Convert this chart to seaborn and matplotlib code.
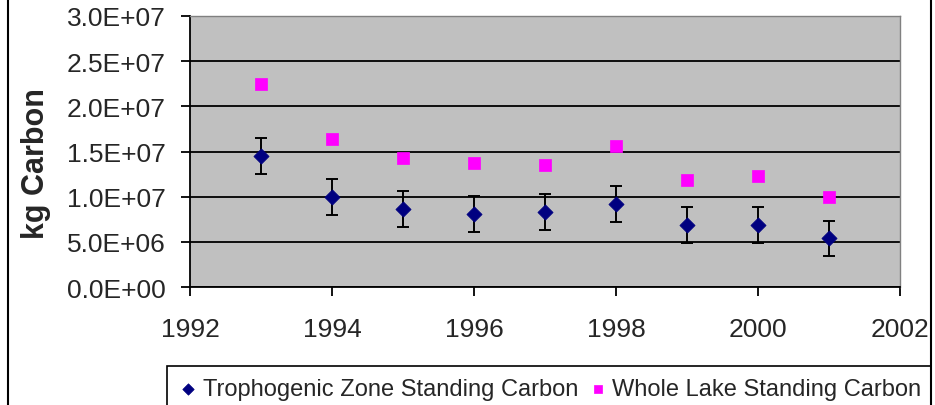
import pandas as pd
import seaborn as sns
import matplotlib.pyplot as plt
from matplotlib.patches import Rectangle
from matplotlib.ticker import FuncFormatter, MultipleLocator

# Data
years = [1993, 1994, 1995, 1996, 1997, 1998, 1999, 2000, 2001]
trophogenic = [1.45e7, 1.00e7, 0.86e7, 0.81e7, 0.83e7, 0.92e7, 0.69e7, 0.69e7, 0.54e7]
trophogenic_err = [2.0e6, 2.0e6, 2.0e6, 2.0e6, 2.0e6, 2.0e6, 2.0e6, 2.0e6, 1.95e6]
whole_lake = [2.25e7, 1.64e7, 1.43e7, 1.37e7, 1.35e7, 1.56e7, 1.185e7, 1.225e7, 1.0e7]
series_names = ["Trophogenic Zone Standing Carbon", "Whole Lake Standing Carbon"]

df = pd.DataFrame({"Year": years, "Tropho": trophogenic, "Err": trophogenic_err,
                   "Whole": whole_lake})

sns.set_style("white")
plt.rcParams['font.family'] = ['Liberation Sans', 'DejaVu Sans']

W, H = 935, 406
fig = plt.figure(figsize=(W / 100, H / 100), dpi=100)
ax = fig.add_axes([190 / W, 1 - 288 / H, 710 / W, 271 / H])
ax.set_facecolor("#C0C0C0")

# error bars first so markers sit on top
ax.errorbar(df["Year"], df["Tropho"], yerr=df["Err"], fmt="none",
            ecolor="black", elinewidth=1.4, capsize=4.5, capthick=1.4, zorder=3)
sns.scatterplot(data=df, x="Year", y="Tropho", marker="D", s=60, color="#000080",
                edgecolor="#000080", linewidth=0.5, ax=ax, zorder=4, label=series_names[0])
sns.scatterplot(data=df, x="Year", y="Whole", marker="s", s=64, color="#FF00FF",
                edgecolor="#FF00FF", linewidth=0.5, ax=ax, zorder=4, label=series_names[1])

ax.set_xlim(1992, 2002)
ax.set_ylim(0, 3.0e7)
ax.xaxis.set_major_locator(MultipleLocator(2))
ax.yaxis.set_major_locator(MultipleLocator(5e6))
ax.yaxis.set_major_formatter(FuncFormatter(lambda v, p: f"{v:.1E}"))
ax.xaxis.set_major_formatter(FuncFormatter(lambda v, p: f"{int(v)}"))

# horizontal gridlines only
ax.grid(axis="y", color="black", linewidth=1.3)
ax.grid(axis="x", visible=False)
ax.set_axisbelow(True)

for side in ["left", "bottom"]:
    ax.spines[side].set_color("black")
    ax.spines[side].set_linewidth(1.3)
for side in ["top", "right"]:
    ax.spines[side].set_color("#808080")
    ax.spines[side].set_linewidth(1)

ax.tick_params(axis="both", direction="out", length=6.5, width=1.3, color="black",
               labelsize=19, left=True, bottom=True)
ax.tick_params(axis="y", pad=11)
ax.tick_params(axis="x", pad=15)
ax.set_xlabel("")
ax.set_ylabel("kg Carbon", fontsize=22, fontweight="bold")
ax.yaxis.set_label_coords(-0.196, 0.46)

# chart border (left and right edges visible in the reference)
fig.patches.append(Rectangle((7.5 / W, -0.1), (931 - 7.5) / W, 1.3, transform=fig.transFigure,
                             fill=False, edgecolor="black", linewidth=1.5))

# legend with a frame running off the bottom
fig.patches.append(Rectangle((167 / W, -0.1), (931 - 167) / W, 0.1 + (H - 367) / H,
                             transform=fig.transFigure, fill=False,
                             edgecolor="black", linewidth=1.2))
ax.get_legend().remove()
handles, labels = ax.get_legend_handles_labels()
leg = fig.legend(handles, labels, loc="center left", bbox_to_anchor=(173 / W, 1 - 390 / H),
                 ncol=2, frameon=False, handlelength=0.5, handletextpad=0.35,
                 columnspacing=0.6, borderaxespad=0, markerscale=0.75,
                 prop={"size": 17})

fig.savefig("out.png", dpi=100)
